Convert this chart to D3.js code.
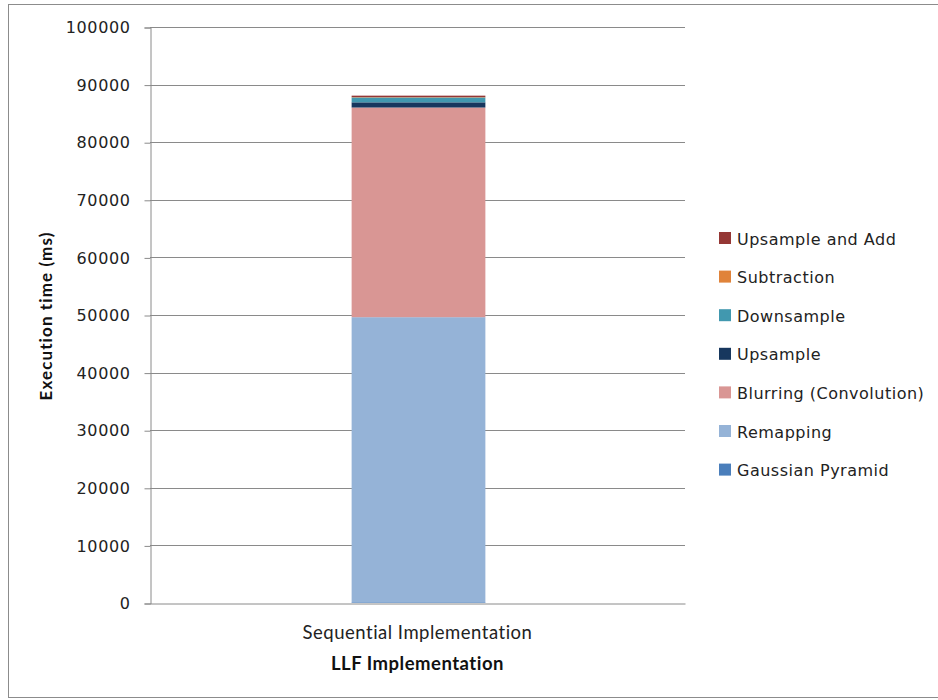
<!DOCTYPE html>
<html>
<head>
<meta charset="utf-8">
<script src="https://cdn.jsdelivr.net/npm/d3@7"></script>
<style>
  html, body { margin: 0; padding: 0; background: #fff; }
  svg { display: block; }
</style>
</head>
<body>
<svg id="chart" width="938" height="700"></svg>
<script>
// Execution time breakdown (ms) of the sequential LLF implementation
const categories = ["Sequential Implementation"];
const stages = ["Gaussian Pyramid", "Remapping", "Blurring (Convolution)", "Upsample", "Downsample", "Subtraction", "Upsample and Add"];
const stageTimes = {
  "Gaussian Pyramid":       [120],
  "Remapping":              [49500],
  "Blurring (Convolution)": [36400],
  "Upsample":               [900],
  "Downsample":             [850],
  "Subtraction":            [60],
  "Upsample and Add":       [250]
};
const stageColors = ["#4A7EBB", "#95B3D7", "#D99694", "#17375E", "#4198AF", "#E0833A", "#953735"];
const yTicks = [0, 10000, 20000, 30000, 40000, 50000, 60000, 70000, 80000, 90000, 100000];

const svg = d3.select("#chart");
const margin = { left: 150, right: 685, top: 27, bottom: 603 };

// outer frame
svg.append("rect")
  .attr("x", 8.5).attr("y", 4.5).attr("width", 940).attr("height", 693)
  .attr("fill", "none").attr("stroke", "#8c8c8c").attr("stroke-width", 1);

const x = d3.scaleBand().domain(categories).range([margin.left, margin.right]).paddingInner(0).paddingOuter(0);
const y = d3.scaleLinear().domain([0, 100000]).range([margin.bottom, margin.top]);

// gridlines
svg.append("g").selectAll("line").data(yTicks.filter(d => d > 0)).join("line")
  .attr("x1", margin.left).attr("x2", margin.right)
  .attr("y1", d => Math.round(y(d)) + 0.5).attr("y2", d => Math.round(y(d)) + 0.5)
  .attr("stroke", "#8a8a8a").attr("stroke-width", 1);

// stacked bar
const rows = categories.map((c, i) => {
  const r = { category: c };
  stages.forEach(s => r[s] = stageTimes[s][i]);
  return r;
});
const stacked = d3.stack().keys(stages)(rows);
const barW = x.bandwidth() * 0.25;
svg.append("g").selectAll("g").data(stacked).join("g")
  .attr("fill", (d, i) => stageColors[i])
  .selectAll("rect").data(d => d).join("rect")
  .attr("x", d => x(d.data.category) + (x.bandwidth() - barW) / 2 + 1)
  .attr("width", barW)
  .attr("y", d => y(d[1]))
  .attr("height", d => y(d[0]) - y(d[1]));

// y axis
const yAxis = d3.axisLeft(y).tickValues(yTicks).tickFormat(d3.format("d")).tickSizeOuter(0).tickSize(6).tickPadding(14);
const gy = svg.append("g").attr("transform", `translate(${margin.left + 0.5},0.5)`).call(yAxis);
gy.select(".domain").attr("stroke", "#8a8a8a");
gy.selectAll(".tick line").attr("stroke", "#8a8a8a");
gy.selectAll(".tick text")
  .attr("font-family", "'DejaVu Sans', Verdana, sans-serif")
  .attr("font-size", 16).attr("letter-spacing", 0.6).attr("fill", "#222");

// x axis
const xAxis = d3.axisBottom(x).tickSize(0).tickSizeOuter(0).tickPadding(22);
const gx = svg.append("g").attr("transform", `translate(0,${margin.bottom + 0.5})`).call(xAxis);
gx.select(".domain").attr("stroke", "#8a8a8a");
gx.selectAll(".tick text")
  .attr("font-family", "Lato, 'Open Sans', sans-serif")
  .attr("font-size", 18.5).attr("letter-spacing", 0.5).attr("fill", "#222");

// axis titles
svg.append("text")
  .attr("x", (margin.left + margin.right) / 2).attr("y", 670)
  .attr("text-anchor", "middle")
  .attr("font-family", "Lato, 'Open Sans', sans-serif")
  .attr("font-size", 18.5).attr("font-weight", "bold").attr("letter-spacing", 0.5).attr("fill", "#111")
  .text("LLF Implementation");

svg.append("text")
  .attr("transform", `translate(52,316) rotate(-90)`)
  .attr("text-anchor", "middle")
  .attr("font-family", "Lato, 'Open Sans', sans-serif")
  .attr("font-size", 17).attr("font-weight", "bold").attr("letter-spacing", 1.1).attr("fill", "#111")
  .text("Execution time (ms)");

// legend (top of stack listed first)
const legendOrder = stages.slice().reverse();
const legend = svg.append("g").attr("transform", "translate(719,232)");
const items = legend.selectAll("g").data(legendOrder).join("g")
  .attr("transform", (d, i) => `translate(0,${i * 38.6})`);
items.append("rect")
  .attr("width", 12).attr("height", 12)
  .attr("fill", d => stageColors[stages.indexOf(d)]);
items.append("text")
  .attr("x", 18).attr("y", 12.5)
  .attr("font-family", "'DejaVu Sans', Verdana, sans-serif")
  .attr("font-size", 16).attr("letter-spacing", 0.5).attr("fill", "#222")
  .text(d => d);
</script>
</body>
</html>
